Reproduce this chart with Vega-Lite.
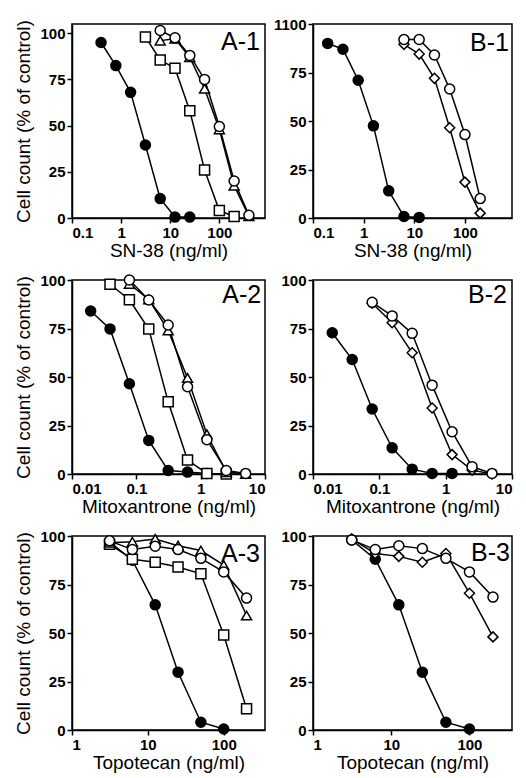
{
  "$schema": "https://vega.github.io/schema/vega-lite/v6.json",
  "padding": {"left": 14, "top": 16, "right": 0, "bottom": 0},
  "background": "white",
  "datasets": {
    "pts": [
      {"p": "A1", "s": "filled", "c": 0.39, "v": 95},
      {"p": "A1", "s": "filled", "c": 0.78, "v": 82.5},
      {"p": "A1", "s": "filled", "c": 1.56, "v": 68},
      {"p": "A1", "s": "filled", "c": 3.125, "v": 39.5},
      {"p": "A1", "s": "filled", "c": 6.25, "v": 10.5},
      {"p": "A1", "s": "filled", "c": 12.5, "v": 0.5},
      {"p": "A1", "s": "filled", "c": 25, "v": 0.5},
      {"p": "A1", "s": "square", "c": 3.125, "v": 98},
      {"p": "A1", "s": "square", "c": 6.25, "v": 85.5},
      {"p": "A1", "s": "square", "c": 12.5, "v": 81},
      {"p": "A1", "s": "square", "c": 25, "v": 58},
      {"p": "A1", "s": "square", "c": 50, "v": 26},
      {"p": "A1", "s": "square", "c": 100, "v": 4},
      {"p": "A1", "s": "square", "c": 200, "v": 0.8},
      {"p": "A1", "s": "triangle", "c": 6.25, "v": 96},
      {"p": "A1", "s": "triangle", "c": 12.5, "v": 97},
      {"p": "A1", "s": "triangle", "c": 25, "v": 87},
      {"p": "A1", "s": "triangle", "c": 50, "v": 70},
      {"p": "A1", "s": "triangle", "c": 100, "v": 48},
      {"p": "A1", "s": "triangle", "c": 200, "v": 17.5},
      {"p": "A1", "s": "triangle", "c": 400, "v": 1},
      {"p": "A1", "s": "circle", "c": 6.25, "v": 101.5},
      {"p": "A1", "s": "circle", "c": 12.5, "v": 97.5},
      {"p": "A1", "s": "circle", "c": 25, "v": 88},
      {"p": "A1", "s": "circle", "c": 50, "v": 75},
      {"p": "A1", "s": "circle", "c": 100, "v": 49.5},
      {"p": "A1", "s": "circle", "c": 200, "v": 20},
      {"p": "A1", "s": "circle", "c": 400, "v": 1.5},

      {"p": "B1", "s": "filled", "c": 0.195, "v": 90},
      {"p": "B1", "s": "filled", "c": 0.39, "v": 87},
      {"p": "B1", "s": "filled", "c": 0.78, "v": 71},
      {"p": "B1", "s": "filled", "c": 1.56, "v": 47.5},
      {"p": "B1", "s": "filled", "c": 3.125, "v": 14},
      {"p": "B1", "s": "filled", "c": 6.25, "v": 0.8},
      {"p": "B1", "s": "filled", "c": 12.5, "v": 0.3},
      {"p": "B1", "s": "diamond", "c": 6.25, "v": 89.5},
      {"p": "B1", "s": "diamond", "c": 12.5, "v": 84.5},
      {"p": "B1", "s": "diamond", "c": 25, "v": 72},
      {"p": "B1", "s": "diamond", "c": 50, "v": 46.5},
      {"p": "B1", "s": "diamond", "c": 100, "v": 18.5},
      {"p": "B1", "s": "diamond", "c": 200, "v": 2.5},
      {"p": "B1", "s": "circle", "c": 6.25, "v": 92},
      {"p": "B1", "s": "circle", "c": 12.5, "v": 92},
      {"p": "B1", "s": "circle", "c": 25, "v": 84},
      {"p": "B1", "s": "circle", "c": 50, "v": 66.5},
      {"p": "B1", "s": "circle", "c": 100, "v": 43},
      {"p": "B1", "s": "circle", "c": 200, "v": 10},

      {"p": "A2", "s": "filled", "c": 0.0195, "v": 84},
      {"p": "A2", "s": "filled", "c": 0.039, "v": 74.8},
      {"p": "A2", "s": "filled", "c": 0.078, "v": 46.5},
      {"p": "A2", "s": "filled", "c": 0.156, "v": 17.3},
      {"p": "A2", "s": "filled", "c": 0.3125, "v": 1.8},
      {"p": "A2", "s": "filled", "c": 0.625, "v": 1},
      {"p": "A2", "s": "filled", "c": 1.25, "v": 0.3},
      {"p": "A2", "s": "square", "c": 0.039, "v": 97.8},
      {"p": "A2", "s": "square", "c": 0.078, "v": 89.8},
      {"p": "A2", "s": "square", "c": 0.156, "v": 74.7},
      {"p": "A2", "s": "square", "c": 0.3125, "v": 37.2},
      {"p": "A2", "s": "square", "c": 0.625, "v": 7.2},
      {"p": "A2", "s": "square", "c": 1.25, "v": 0.3},
      {"p": "A2", "s": "square", "c": 2.5, "v": 0},
      {"p": "A2", "s": "triangle", "c": 0.078, "v": 98},
      {"p": "A2", "s": "triangle", "c": 0.156, "v": 90},
      {"p": "A2", "s": "triangle", "c": 0.3125, "v": 74},
      {"p": "A2", "s": "triangle", "c": 0.625, "v": 49.5},
      {"p": "A2", "s": "triangle", "c": 1.25, "v": 20.5},
      {"p": "A2", "s": "triangle", "c": 2.5, "v": 1},
      {"p": "A2", "s": "triangle", "c": 5, "v": 0},
      {"p": "A2", "s": "circle", "c": 0.078, "v": 100},
      {"p": "A2", "s": "circle", "c": 0.156, "v": 89.7},
      {"p": "A2", "s": "circle", "c": 0.3125, "v": 76.8},
      {"p": "A2", "s": "circle", "c": 0.625, "v": 45},
      {"p": "A2", "s": "circle", "c": 1.25, "v": 17.7},
      {"p": "A2", "s": "circle", "c": 2.5, "v": 1.8},
      {"p": "A2", "s": "circle", "c": 5, "v": 0.3},

      {"p": "B2", "s": "filled", "c": 0.0195, "v": 72.8},
      {"p": "B2", "s": "filled", "c": 0.039, "v": 59},
      {"p": "B2", "s": "filled", "c": 0.078, "v": 33.5},
      {"p": "B2", "s": "filled", "c": 0.156, "v": 13.5},
      {"p": "B2", "s": "filled", "c": 0.3125, "v": 2.5},
      {"p": "B2", "s": "filled", "c": 0.625, "v": 0.3},
      {"p": "B2", "s": "filled", "c": 1.25, "v": 0.3},
      {"p": "B2", "s": "diamond", "c": 0.078, "v": 88},
      {"p": "B2", "s": "diamond", "c": 0.156, "v": 78},
      {"p": "B2", "s": "diamond", "c": 0.3125, "v": 62.5},
      {"p": "B2", "s": "diamond", "c": 0.625, "v": 34},
      {"p": "B2", "s": "diamond", "c": 1.25, "v": 10},
      {"p": "B2", "s": "diamond", "c": 2.5, "v": 2},
      {"p": "B2", "s": "diamond", "c": 5, "v": 0},
      {"p": "B2", "s": "circle", "c": 0.078, "v": 88.5},
      {"p": "B2", "s": "circle", "c": 0.156, "v": 81.5},
      {"p": "B2", "s": "circle", "c": 0.3125, "v": 72.5},
      {"p": "B2", "s": "circle", "c": 0.625, "v": 45.8},
      {"p": "B2", "s": "circle", "c": 1.25, "v": 21.8},
      {"p": "B2", "s": "circle", "c": 2.5, "v": 3.8},
      {"p": "B2", "s": "circle", "c": 5, "v": 0.3},

      {"p": "A3", "s": "filled", "c": 3.125, "v": 97},
      {"p": "A3", "s": "filled", "c": 6.25, "v": 87.5},
      {"p": "A3", "s": "filled", "c": 12.5, "v": 64.5},
      {"p": "A3", "s": "filled", "c": 25, "v": 29.8},
      {"p": "A3", "s": "filled", "c": 50, "v": 4},
      {"p": "A3", "s": "filled", "c": 100, "v": 0.5},
      {"p": "A3", "s": "square", "c": 3.125, "v": 95.8},
      {"p": "A3", "s": "square", "c": 6.25, "v": 88},
      {"p": "A3", "s": "square", "c": 12.5, "v": 86.5},
      {"p": "A3", "s": "square", "c": 25, "v": 84},
      {"p": "A3", "s": "square", "c": 50, "v": 80.5},
      {"p": "A3", "s": "square", "c": 100, "v": 49},
      {"p": "A3", "s": "square", "c": 200, "v": 11},
      {"p": "A3", "s": "triangle", "c": 3.125, "v": 96.5},
      {"p": "A3", "s": "triangle", "c": 6.25, "v": 97},
      {"p": "A3", "s": "triangle", "c": 12.5, "v": 98.5},
      {"p": "A3", "s": "triangle", "c": 25, "v": 95},
      {"p": "A3", "s": "triangle", "c": 50, "v": 92.5},
      {"p": "A3", "s": "triangle", "c": 100, "v": 85},
      {"p": "A3", "s": "triangle", "c": 200, "v": 59},
      {"p": "A3", "s": "circle", "c": 3.125, "v": 97.5},
      {"p": "A3", "s": "circle", "c": 6.25, "v": 93},
      {"p": "A3", "s": "circle", "c": 12.5, "v": 94.7},
      {"p": "A3", "s": "circle", "c": 25, "v": 93},
      {"p": "A3", "s": "circle", "c": 50, "v": 88.5},
      {"p": "A3", "s": "circle", "c": 100, "v": 81.5},
      {"p": "A3", "s": "circle", "c": 200, "v": 68},

      {"p": "B3", "s": "filled", "c": 3.125, "v": 98},
      {"p": "B3", "s": "filled", "c": 6.25, "v": 88},
      {"p": "B3", "s": "filled", "c": 12.5, "v": 64.5},
      {"p": "B3", "s": "filled", "c": 25, "v": 29.8},
      {"p": "B3", "s": "filled", "c": 50, "v": 4},
      {"p": "B3", "s": "filled", "c": 100, "v": 0.5},
      {"p": "B3", "s": "diamond", "c": 3.125, "v": 98.5},
      {"p": "B3", "s": "diamond", "c": 6.25, "v": 91},
      {"p": "B3", "s": "diamond", "c": 12.5, "v": 89.5},
      {"p": "B3", "s": "diamond", "c": 25, "v": 86.5},
      {"p": "B3", "s": "diamond", "c": 50, "v": 91},
      {"p": "B3", "s": "diamond", "c": 100, "v": 70.5},
      {"p": "B3", "s": "diamond", "c": 200, "v": 48},
      {"p": "B3", "s": "circle", "c": 3.125, "v": 98},
      {"p": "B3", "s": "circle", "c": 6.25, "v": 93},
      {"p": "B3", "s": "circle", "c": 12.5, "v": 95},
      {"p": "B3", "s": "circle", "c": 25, "v": 93.5},
      {"p": "B3", "s": "circle", "c": 50, "v": 88.5},
      {"p": "B3", "s": "circle", "c": 100, "v": 81.5},
      {"p": "B3", "s": "circle", "c": 200, "v": 68.5}
    ]
  },
  "config": {
    "view": {"stroke": "black", "strokeWidth": 1.5},
    "axis": {
      "grid": false,
      "domainColor": "black", "domainWidth": 1.5,
      "tickColor": "black", "tickWidth": 1.5, "tickSize": 5,
      "labelColor": "black", "labelFont": "Liberation Sans", "labelFontWeight": "bold", "labelFontSize": 15,
      "labelPadding": 2,
      "titleColor": "black", "titleFont": "Liberation Sans", "titleFontWeight": "normal", "titleFontSize": 19
    },
    "axisX": {"titlePadding": 1},
    "axisY": {"titlePadding": 6},
    "point": {"filled": true, "size": 100, "stroke": "black", "strokeWidth": 1.5, "opacity": 1},
    "text": {"font": "Liberation Sans"}
  },
  "concat": [
    {
      "width": 193, "height": 194,
      "layer": [
        {"data": {"name": "pts"}, "transform": [{"filter": "datum.p == 'A1'"}],
         "mark": {"type": "line", "color": "black", "strokeWidth": 1.5},
         "encoding": {
           "x": {"field": "c", "type": "quantitative", "scale": {"type": "log", "domain": [0.1, 850], "nice": false}, "axis": {"values": [0.1, 1, 10, 100], "format": "~g", "title": "SN-38 (ng/ml)"}},
           "y": {"field": "v", "type": "quantitative", "scale": {"domain": [0, 105], "nice": false}, "axis": {"values": [0, 25, 50, 75, 100], "title": "Cell count (% of control)"}},
           "detail": {"field": "s"}}},
        {"data": {"name": "pts"}, "transform": [{"filter": "datum.p == 'A1'"}],
         "mark": {"type": "point"},
         "encoding": {
           "x": {"field": "c", "type": "quantitative"},
           "y": {"field": "v", "type": "quantitative"},
           "shape": {"field": "s", "type": "nominal", "scale": {"domain": ["filled", "circle", "triangle", "square", "diamond"], "range": ["circle", "circle", "triangle-up", "square", "diamond"]}, "legend": null},
           "fill": {"field": "s", "type": "nominal", "scale": {"domain": ["filled", "circle", "triangle", "square", "diamond"], "range": ["black", "white", "white", "white", "white"]}, "legend": null}}},
        {"data": {"values": [{"t": "A-1", "x": 670, "y": 91}]},
         "mark": {"type": "text", "align": "right", "baseline": "alphabetic", "fontSize": 25, "color": "black"},
         "encoding": {"x": {"field": "x", "type": "quantitative"}, "y": {"field": "y", "type": "quantitative"}, "text": {"field": "t"}}}
      ]
    },
    {
      "width": 199, "height": 194,
      "layer": [
        {"data": {"name": "pts"}, "transform": [{"filter": "datum.p == 'B1'"}],
         "mark": {"type": "line", "color": "black", "strokeWidth": 1.5},
         "encoding": {
           "x": {"field": "c", "type": "quantitative", "scale": {"type": "log", "domain": [0.1, 850], "nice": false}, "axis": {"values": [0.1, 1, 10, 100], "format": "~g", "title": "SN-38 (ng/ml)"}},
           "y": {"field": "v", "type": "quantitative", "scale": {"domain": [0, 100], "nice": false}, "axis": {"values": [0, 25, 50, 75, 100], "title": null, "labelExpr": "datum.value == 100 ? '1100' : datum.label"}},
           "detail": {"field": "s"}}},
        {"data": {"name": "pts"}, "transform": [{"filter": "datum.p == 'B1'"}],
         "mark": {"type": "point"},
         "encoding": {
           "x": {"field": "c", "type": "quantitative"},
           "y": {"field": "v", "type": "quantitative"},
           "shape": {"field": "s", "type": "nominal", "scale": {"domain": ["filled", "circle", "triangle", "square", "diamond"], "range": ["circle", "circle", "triangle-up", "square", "diamond"]}, "legend": null},
           "fill": {"field": "s", "type": "nominal", "scale": {"domain": ["filled", "circle", "triangle", "square", "diamond"], "range": ["black", "white", "white", "white", "white"]}, "legend": null}}},
        {"data": {"values": [{"t": "B-1", "x": 740, "y": 86}]},
         "mark": {"type": "text", "align": "right", "baseline": "alphabetic", "fontSize": 25, "color": "black"},
         "encoding": {"x": {"field": "x", "type": "quantitative"}, "y": {"field": "y", "type": "quantitative"}, "text": {"field": "t"}}}
      ]
    },
    {
      "width": 193, "height": 194,
      "layer": [
        {"data": {"name": "pts"}, "transform": [{"filter": "datum.p == 'A2'"}],
         "mark": {"type": "line", "color": "black", "strokeWidth": 1.5},
         "encoding": {
           "x": {"field": "c", "type": "quantitative", "scale": {"type": "log", "domain": [0.01, 10], "nice": false}, "axis": {"values": [0.01, 0.1, 1, 10], "format": "~g", "title": "Mitoxantrone (ng/ml)"}},
           "y": {"field": "v", "type": "quantitative", "scale": {"domain": [0, 100], "nice": false}, "axis": {"values": [0, 25, 50, 75, 100], "title": "Cell count (% of control)"}},
           "detail": {"field": "s"}}},
        {"data": {"name": "pts"}, "transform": [{"filter": "datum.p == 'A2'"}],
         "mark": {"type": "point"},
         "encoding": {
           "x": {"field": "c", "type": "quantitative"},
           "y": {"field": "v", "type": "quantitative"},
           "shape": {"field": "s", "type": "nominal", "scale": {"domain": ["filled", "circle", "triangle", "square", "diamond"], "range": ["circle", "circle", "triangle-up", "square", "diamond"]}, "legend": null},
           "fill": {"field": "s", "type": "nominal", "scale": {"domain": ["filled", "circle", "triangle", "square", "diamond"], "range": ["black", "white", "white", "white", "white"]}, "legend": null}}},
        {"data": {"values": [{"t": "A-2", "x": 8.7, "y": 88}]},
         "mark": {"type": "text", "align": "right", "baseline": "alphabetic", "fontSize": 25, "color": "black"},
         "encoding": {"x": {"field": "x", "type": "quantitative"}, "y": {"field": "y", "type": "quantitative"}, "text": {"field": "t"}}}
      ]
    },
    {
      "width": 199, "height": 194,
      "layer": [
        {"data": {"name": "pts"}, "transform": [{"filter": "datum.p == 'B2'"}],
         "mark": {"type": "line", "color": "black", "strokeWidth": 1.5},
         "encoding": {
           "x": {"field": "c", "type": "quantitative", "scale": {"type": "log", "domain": [0.01, 10], "nice": false}, "axis": {"values": [0.01, 0.1, 1, 10], "format": "~g", "title": "Mitoxantrone (ng/ml)"}},
           "y": {"field": "v", "type": "quantitative", "scale": {"domain": [0, 100], "nice": false}, "axis": {"values": [0, 25, 50, 75, 100], "title": null}},
           "detail": {"field": "s"}}},
        {"data": {"name": "pts"}, "transform": [{"filter": "datum.p == 'B2'"}],
         "mark": {"type": "point"},
         "encoding": {
           "x": {"field": "c", "type": "quantitative"},
           "y": {"field": "v", "type": "quantitative"},
           "shape": {"field": "s", "type": "nominal", "scale": {"domain": ["filled", "circle", "triangle", "square", "diamond"], "range": ["circle", "circle", "triangle-up", "square", "diamond"]}, "legend": null},
           "fill": {"field": "s", "type": "nominal", "scale": {"domain": ["filled", "circle", "triangle", "square", "diamond"], "range": ["black", "white", "white", "white", "white"]}, "legend": null}}},
        {"data": {"values": [{"t": "B-2", "x": 8.4, "y": 88}]},
         "mark": {"type": "text", "align": "right", "baseline": "alphabetic", "fontSize": 25, "color": "black"},
         "encoding": {"x": {"field": "x", "type": "quantitative"}, "y": {"field": "y", "type": "quantitative"}, "text": {"field": "t"}}}
      ]
    },
    {
      "width": 193, "height": 194,
      "layer": [
        {"data": {"name": "pts"}, "transform": [{"filter": "datum.p == 'A3'"}],
         "mark": {"type": "line", "color": "black", "strokeWidth": 1.5},
         "encoding": {
           "x": {"field": "c", "type": "quantitative", "scale": {"type": "log", "domain": [1, 350], "nice": false}, "axis": {"values": [1, 10, 100], "format": "~g", "title": "Topotecan (ng/ml)"}},
           "y": {"field": "v", "type": "quantitative", "scale": {"domain": [0, 100], "nice": false}, "axis": {"values": [0, 25, 50, 75, 100], "title": "Cell count (% of control)"}},
           "detail": {"field": "s"}}},
        {"data": {"name": "pts"}, "transform": [{"filter": "datum.p == 'A3'"}],
         "mark": {"type": "point"},
         "encoding": {
           "x": {"field": "c", "type": "quantitative"},
           "y": {"field": "v", "type": "quantitative"},
           "shape": {"field": "s", "type": "nominal", "scale": {"domain": ["filled", "circle", "triangle", "square", "diamond"], "range": ["circle", "circle", "triangle-up", "square", "diamond"]}, "legend": null},
           "fill": {"field": "s", "type": "nominal", "scale": {"domain": ["filled", "circle", "triangle", "square", "diamond"], "range": ["black", "white", "white", "white", "white"]}, "legend": null}}},
        {"data": {"values": [{"t": "A-3", "x": 300, "y": 86.5}]},
         "mark": {"type": "text", "align": "right", "baseline": "alphabetic", "fontSize": 25, "color": "black"},
         "encoding": {"x": {"field": "x", "type": "quantitative"}, "y": {"field": "y", "type": "quantitative"}, "text": {"field": "t"}}}
      ]
    },
    {
      "width": 199, "height": 194,
      "layer": [
        {"data": {"name": "pts"}, "transform": [{"filter": "datum.p == 'B3'"}],
         "mark": {"type": "line", "color": "black", "strokeWidth": 1.5},
         "encoding": {
           "x": {"field": "c", "type": "quantitative", "scale": {"type": "log", "domain": [1, 350], "nice": false}, "axis": {"values": [1, 10, 100], "format": "~g", "title": "Topotecan (ng/ml)"}},
           "y": {"field": "v", "type": "quantitative", "scale": {"domain": [0, 100], "nice": false}, "axis": {"values": [0, 25, 50, 75, 100], "title": null}},
           "detail": {"field": "s"}}},
        {"data": {"name": "pts"}, "transform": [{"filter": "datum.p == 'B3'"}],
         "mark": {"type": "point"},
         "encoding": {
           "x": {"field": "c", "type": "quantitative"},
           "y": {"field": "v", "type": "quantitative"},
           "shape": {"field": "s", "type": "nominal", "scale": {"domain": ["filled", "circle", "triangle", "square", "diamond"], "range": ["circle", "circle", "triangle-up", "square", "diamond"]}, "legend": null},
           "fill": {"field": "s", "type": "nominal", "scale": {"domain": ["filled", "circle", "triangle", "square", "diamond"], "range": ["black", "white", "white", "white", "white"]}, "legend": null}}},
        {"data": {"values": [{"t": "B-3", "x": 330, "y": 87}]},
         "mark": {"type": "text", "align": "right", "baseline": "alphabetic", "fontSize": 25, "color": "black"},
         "encoding": {"x": {"field": "x", "type": "quantitative"}, "y": {"field": "y", "type": "quantitative"}, "text": {"field": "t"}}}
      ]
    }
  ],
  "columns": 2,
  "spacing": {"row": 62, "column": 48},
  "bounds": "flush"
}
